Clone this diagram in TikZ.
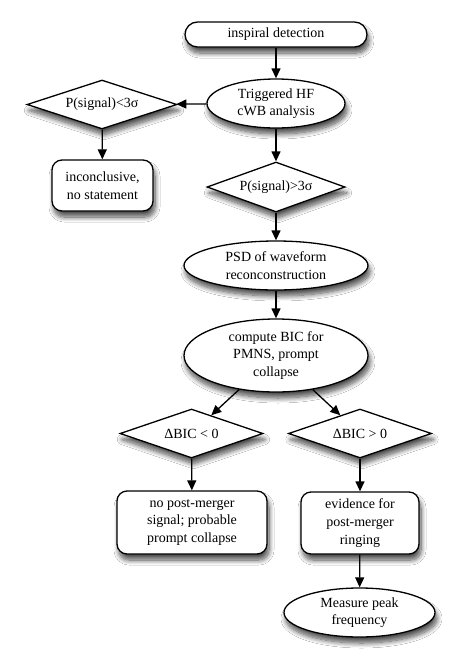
\documentclass[tikz,border=0pt]{standalone}
\usepackage{fontspec}
\setmainfont{Liberation Serif}
\usetikzlibrary{shapes.geometric,arrows.meta,shadows.blur}
\begin{document}
\begin{tikzpicture}[x=1pt,y=-1pt,
  fcbase/.style={font=\fontsize{14}{17.6}\selectfont, align=center, inner sep=0pt, draw, line width=1.3pt, fill=white,
    blur shadow={shadow xshift=2pt, shadow yshift=-6pt, shadow blur radius=5pt, shadow blur steps=10, shadow opacity=70}},
  pill/.style={fcbase, rectangle, rounded corners=12.5pt},
  rbox/.style={fcbase, rectangle, rounded corners=10pt},
  oval/.style={fcbase, ellipse},
  dia/.style={fcbase, diamond, aspect=3},
  conn/.style={line width=1.3pt, -{Triangle[length=10pt,width=9pt]}}
]
\fill[white] (0,0) rectangle (464,672);
\useasboundingbox (0,0) rectangle (464,672);
\node[pill, minimum width=182pt, minimum height=25pt] (insp) at (276,34.5) {inspiral detection};
\node[oval, minimum width=138pt, minimum height=49pt] (trig) at (276,103.5) {Triggered HF\\cWB analysis};
\node[dia, minimum width=150pt, minimum height=49pt] (pl) at (102,104.5) {P(signal)<3σ};
\node[rbox, minimum width=101pt, minimum height=51pt] (inc) at (102.5,185.5) {inconclusive,\\no statement};
\node[dia, minimum width=138pt, minimum height=50pt] (pg) at (276,187) {P(signal)>3σ};
\node[oval, minimum width=184pt, minimum height=49pt] (psd) at (276,265.5) {PSD of waveform\\reconconstruction};
\node[oval, minimum width=184pt, minimum height=73pt] (bic) at (276,355.5) {compute BIC for\\PMNS, prompt\\collapse};
\node[dia, minimum width=143pt, minimum height=49pt] (dl) at (191.5,433.5) {ΔBIC < 0};
\node[dia, minimum width=143pt, minimum height=49pt] (dg) at (360,433.5) {ΔBIC > 0};
\node[rbox, minimum width=150pt, minimum height=63pt] (nopm) at (192,522.5) {no post-merger\\signal; probable\\prompt collapse};
\node[rbox, minimum width=118pt, minimum height=62pt] (evid) at (360,523) {evidence for\\post-merger\\ringing};
\node[oval, minimum width=151pt, minimum height=49pt] (meas) at (359.5,612.5) {Measure peak\\frequency};
\draw[conn] (insp) -- (trig);
\draw[conn] (trig) -- (pl);
\draw[conn] (pl) -- (inc);
\draw[conn] (trig) -- (pg);
\draw[conn] (pg) -- (psd);
\draw[conn] (psd) -- (bic);
\draw[conn] (bic) -- (dl);
\draw[conn] (bic) -- (dg);
\draw[conn] (dl) -- (nopm);
\draw[conn] (dg) -- (evid);
\draw[conn] (evid) -- (meas);
\end{tikzpicture}
\end{document}
